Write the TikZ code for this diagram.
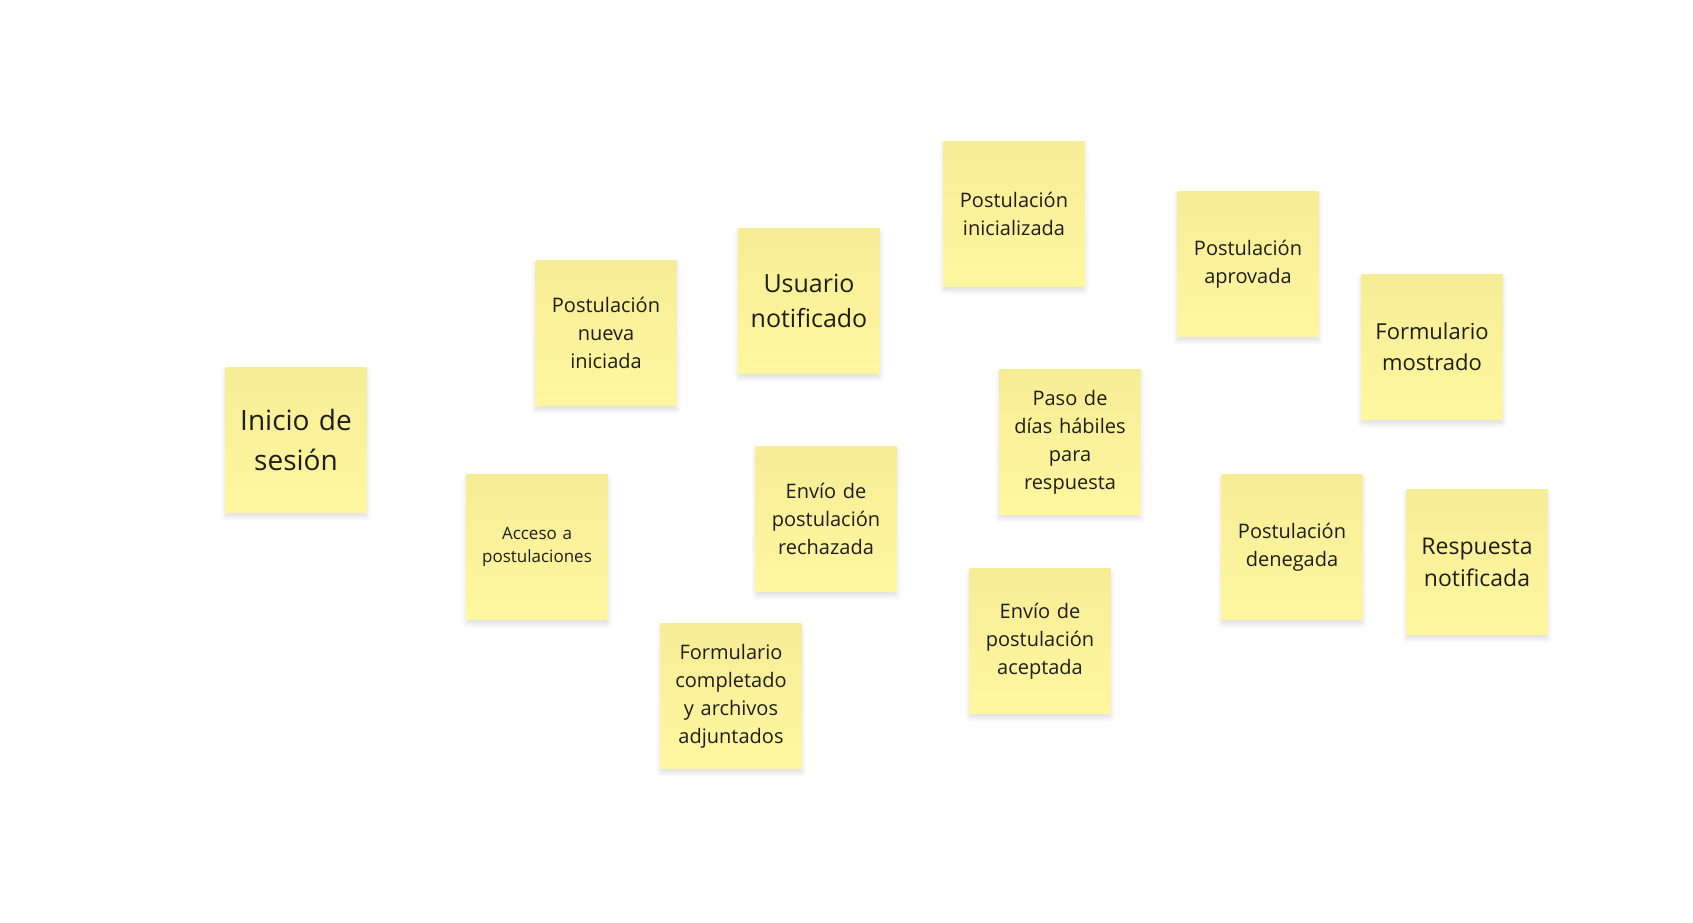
\documentclass[tikz,border=0pt]{standalone}
\usepackage{fontspec}
\setmainfont{Open Sans}
\usetikzlibrary{positioning, shadows.blur}
\definecolor{notetop}{RGB}{246,237,150}
\definecolor{notebottom}{RGB}{255,246,160}
\definecolor{notetext}{RGB}{30,30,25}
\tikzset{
every node/.style={text=notetext}, % dark text on the notes
note/.style={rectangle, inner sep=0pt, minimum width=141pt, minimum height=145pt, text width=130pt, align=center, top color=notetop, bottom color=notebottom, blur shadow={shadow xshift=0pt, shadow yshift=-4pt, shadow blur radius=5pt, shadow blur steps=8, shadow opacity=14}, font=\fontsize{20}{28}\selectfont}, % one sticky note
small/.style={font=\fontsize{17}{23}\selectfont}, % smaller text
large/.style={font=\fontsize{23}{32}\selectfont}, % larger text
huge/.style={font=\fontsize{28}{40}\selectfont}, % largest text
}

\begin{document}
\begin{tikzpicture}[x=1pt, y=-1pt]
    \useasboundingbox (0,0) rectangle (1693,922);

    \node[note, huge] (inicio) at (296,440) {Inicio de\\sesión};
    \node[note, small] (acceso) at (537,547) {Acceso a\\postulaciones};
    \node[note] (nueva) at (606,333) {Postulación\\nueva\\iniciada};
    \node[note, font=\fontsize{25}{35}\selectfont] (usuario) at (809,301) {Usuario\\notificado};
    \node[note] (completado) at (731,696) {Formulario\\completado\\y archivos\\adjuntados};
    \node[note] (rechazada) at (826,519) {Envío de\\postulación\\rechazada};
    \node[note] (inicializada) at (1014,214) {Postulación\\inicializada};
    \node[note] (paso) at (1070,442) {Paso de\\días hábiles\\para\\respuesta};
    \node[note] (aceptada) at (1040,641) {Envío de\\postulación\\aceptada};
    \node[note] (aprovada) at (1248,264) {Postulación\\aprovada};
    \node[note] (denegada) at (1292,547) {Postulación\\denegada};
    \node[note, font=\fontsize{22}{31}\selectfont] (mostrado) at (1432,347) {Formulario\\mostrado};
    \node[note, large] (respuesta) at (1477,562) {Respuesta\\notificada};
  \end{tikzpicture}
\end{document}
